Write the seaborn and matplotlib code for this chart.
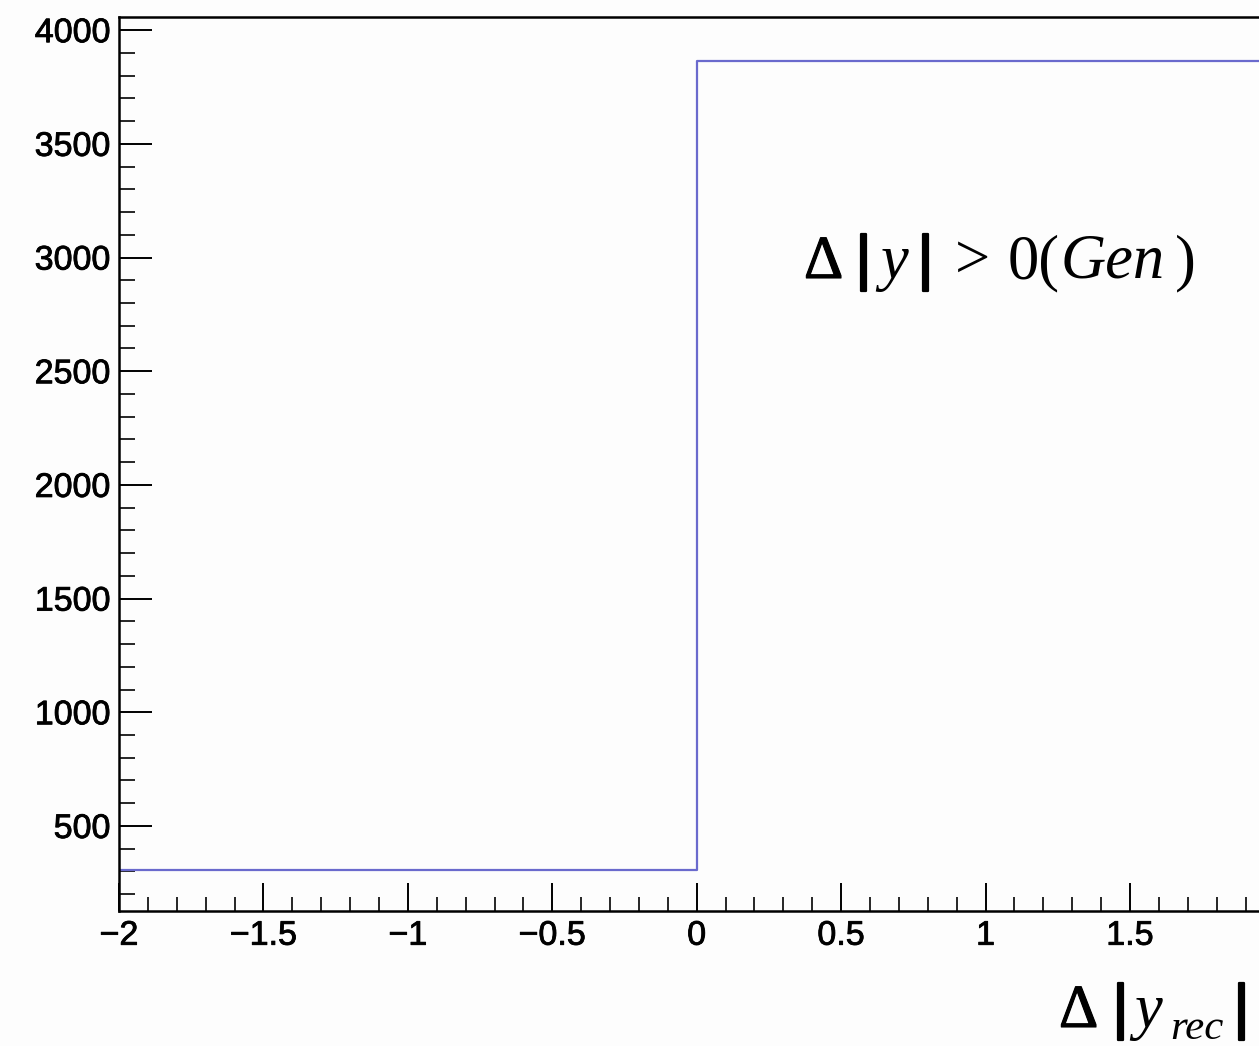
import numpy as np
import pandas as pd
import matplotlib
matplotlib.use("Agg")
import matplotlib.pyplot as plt
import matplotlib.patheffects as pe
import seaborn as sns
from matplotlib.ticker import MultipleLocator, FixedLocator

# Histogram contents: two bins over [-2, 2]
bin_edges = [-2.0, 0.0, 2.0]
bin_centers = [-1.0, 1.0]
counts = [306, 3866]

y_ticks = [500, 1000, 1500, 2000, 2500, 3000, 3500, 4000]
x_ticks = [-2, -1.5, -1, -0.5, 0, 0.5, 1, 1.5, 2]
x_tick_labels = ["\u22122", "\u22121.5", "\u22121", "\u22120.5", "0", "0.5", "1", "1.5", ""]

sns.set_theme(style="ticks")
plt.rcParams["font.family"] = ["Liberation Sans", "DejaVu Sans"]

W, H = 1259, 1046
bg = "#fdfdfd"
fig = plt.figure(figsize=(W / 100, H / 100), dpi=100, facecolor=bg)

# Frame extends past the right border of the canvas
ax_left, ax_right, ax_top, ax_bottom = 119, 1274.4, 17, 911
ax = fig.add_axes([ax_left / W, (H - ax_bottom) / H,
                   (ax_right - ax_left) / W, (ax_bottom - ax_top) / H])
ax.set_facecolor(bg)

df = pd.DataFrame({"x": bin_centers, "w": counts})
sns.histplot(data=df, x="x", weights="w", bins=bin_edges, element="step",
             fill=False, color="#6a6acd", linewidth=1.6, ax=ax)

ax.set_xlim(-2, 2)
ax.set_ylim(126, 4058)
ax.set_xlabel("")
ax.set_ylabel("")

ax.yaxis.set_major_locator(FixedLocator(y_ticks))
ax.yaxis.set_minor_locator(MultipleLocator(100))
ax.xaxis.set_major_locator(FixedLocator(x_ticks))
ax.set_xticklabels(x_tick_labels)
ax.xaxis.set_minor_locator(MultipleLocator(0.1))

ax.tick_params(axis="y", which="major", direction="in", length=24, width=1.4,
               labelsize=24.5, pad=6, colors="black")
ax.tick_params(axis="y", which="minor", direction="in", length=11.5, width=1.4)
ax.tick_params(axis="x", which="major", direction="in", length=20, width=1.4,
               labelsize=24.5, pad=7, colors="black")
ax.tick_params(axis="x", which="minor", direction="in", length=10, width=1.4)

# Slightly heavier tick labels
for lab in ax.get_xticklabels() + ax.get_yticklabels():
    lab.set_path_effects([pe.withStroke(linewidth=0.6, foreground="black")])

for side in ["left", "bottom", "top"]:
    ax.spines[side].set_visible(True)
    ax.spines[side].set_linewidth(1.8)
    ax.spines[side].set_color("black")
ax.spines["right"].set_visible(False)


def put(x, y, s, size, style="normal", weight="normal",
        family="Liberation Serif", ha="left", effects=None):
    """Place a text run at pixel position (x, baseline y) from the top-left."""
    t = fig.text(x / W, (H - y) / H, s, fontsize=size, fontstyle=style,
                 fontweight=weight, family=family, ha=ha, va="baseline",
                 color="black")
    if effects:
        t.set_path_effects(effects)
    return t


def bar(xc, y):
    put(xc, y, "|", 44, family="Liberation Sans", ha="center",
        effects=[pe.withStroke(linewidth=1.6, foreground="black")])


# Annotation: Delta|y| > 0(Gen)
base = 278
put(804, base, "\u0394", 44, effects=[pe.withStroke(linewidth=0.8, foreground="black")])
bar(864, base)
put(880, base, "y", 45, style="italic")
bar(926, base)
put(955, base, ">", 45)
put(1008, base, "0(", 45)
put(1061, base, "Gen", 45, style="italic")
put(1175, base, ")", 45)

# Axis title: Delta|y_rec|
xb = 1027
put(1059, xb, "\u0394", 44, effects=[pe.withStroke(linewidth=0.8, foreground="black")])
bar(1121, xb)
put(1134, xb, "y", 45, style="italic")
put(1170, xb + 12, "rec", 31, style="italic")
bar(1242, xb)

fig.savefig("out.png", dpi=100, facecolor=bg)
